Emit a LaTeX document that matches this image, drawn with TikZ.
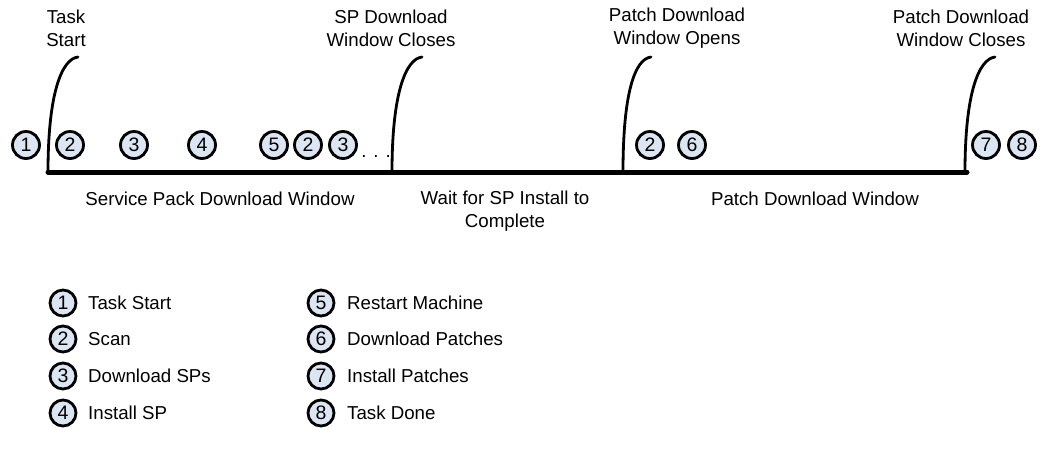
\documentclass[tikz,border=0pt]{standalone}
\usepackage{fontspec}
\setmainfont{Liberation Sans}
\definecolor{circfill}{HTML}{DCE6F2}
\begin{document}
\begin{tikzpicture}[x=1pt,y=-1pt,
  num/.style={circle, draw=black, line width=2.8pt, fill=circfill, minimum size=27pt, inner sep=0pt, font=\fontsize{19.5}{19.5}\selectfont},
  lnum/.style={num, minimum size=26pt},
  lbl/.style={align=center, font=\fontsize{18.7}{23}\selectfont, inner sep=0pt},
  leg/.style={anchor=west, font=\fontsize{18.7}{23}\selectfont, inner sep=0pt},
  timeline/.style={line width=5pt, line cap=round},
  milestone/.style={line width=2.8pt, line cap=round}]
\useasboundingbox (0,0) rectangle (1047,451);
% timeline
\coordinate (tl0) at (48,172);
\coordinate (tl1) at (967,172);
\draw[timeline] (tl0) -- (tl1);
% milestones
\coordinate (m1b) at (48,172);   \coordinate (m1t) at (78,57);
\coordinate (m2b) at (392,172);  \coordinate (m2t) at (422,57);
\coordinate (m3b) at (623,172);  \coordinate (m3t) at (651,57);
\coordinate (m4b) at (965,172);  \coordinate (m4t) at (995,57);
\foreach \m in {m1,m2,m3,m4}{
  \draw[milestone] (\m b) .. controls ++(0,-80) and ++(-16,2) .. (\m t);
}
% top labels
\node[lbl] (ts) at (66,28) {Task\\Start};
\node[lbl] (spc) at (391,28) {SP Download\\Window Closes};
\node[lbl] (pdo) at (677,28) {Patch Download\\Window Opens};
\node[lbl] (pdc) at (961,28) {Patch Download\\Window Closes};
% bottom labels
\node[lbl] (spw) at (220,199) {Service Pack Download Window};
\node[lbl] (wait) at (505,211) {Wait for SP Install to\\Complete};
\node[lbl] (pdw) at (815,199) {Patch Download Window};
% timeline circles
\node[num] (c1) at (26,145) {1};
\node[num] (c2) at (70,145) {2};
\node[num] (c3) at (134,145) {3};
\node[num] (c4) at (202,145) {4};
\node[num] (c5) at (274,145) {5};
\node[num] (c2b) at (308,145) {2};
\node[num] (c3b) at (343,145) {3};
\node[lbl, anchor=base] (dots) at (376,157) {. . .};
\node[num] (c2c) at (650,145) {2};
\node[num] (c6) at (692,145) {6};
\node[num] (c7) at (986,145) {7};
\node[num] (c8) at (1022,145) {8};
% legend
\node[lnum] (l1) at (63,303) {1}; \node[leg] (t1) at (88,303) {Task Start};
\node[lnum] (l2) at (63,339) {2}; \node[leg] (t2) at (88,339) {Scan};
\node[lnum] (l3) at (63,376) {3}; \node[leg] (t3) at (88,376) {Download SPs};
\node[lnum] (l4) at (63,413) {4}; \node[leg] (t4) at (88,413) {Install SP};
\node[lnum] (l5) at (321,303) {5}; \node[leg] (t5) at (347,303) {Restart Machine};
\node[lnum] (l6) at (321,339) {6}; \node[leg] (t6) at (347,339) {Download Patches};
\node[lnum] (l7) at (321,376) {7}; \node[leg] (t7) at (347,376) {Install Patches};
\node[lnum] (l8) at (321,413) {8}; \node[leg] (t8) at (347,413) {Task Done};
\end{tikzpicture}
\end{document}
